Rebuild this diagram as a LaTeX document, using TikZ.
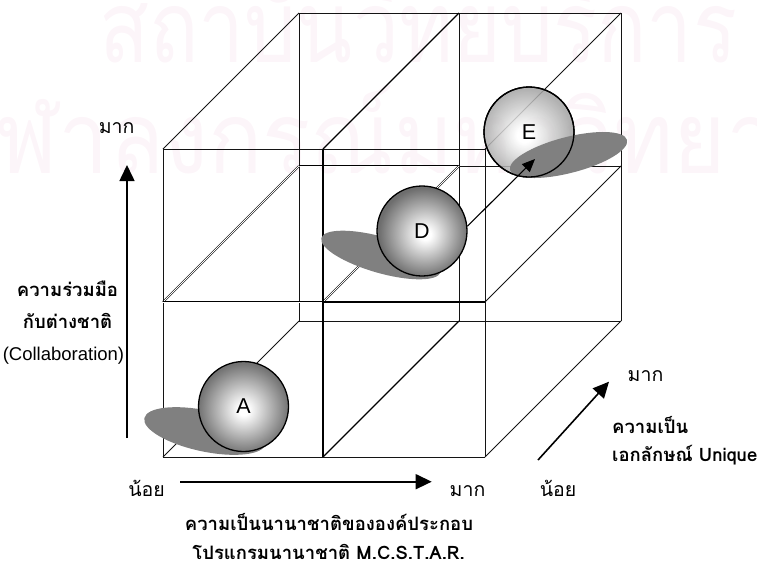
\documentclass[tikz,border=0pt]{standalone}
\usepackage{fontspec}
\setmainfont{Liberation Sans}
\newfontfamily\thai[Script=Thai]{Loma}
\usetikzlibrary{arrows.meta}
\definecolor{wm}{RGB}{252,245,249}
\definecolor{shadowc}{RGB}{128,128,128}
\definecolor{linec}{RGB}{20,20,20}
\pgfdeclareradialshading{ballA}{\pgfpoint{0bp}{-2bp}}{color(0bp)=(white); color(3bp)=(white); color(25bp)=(black!55); color(50bp)=(black!55)}
\pgfdeclareradialshading{ballD}{\pgfpoint{2bp}{-2bp}}{color(0bp)=(white); color(3bp)=(white); color(25bp)=(black!57); color(50bp)=(black!57)}
\pgfdeclareradialshading{ballE}{\pgfpoint{-3bp}{-2bp}}{color(0bp)=(white); color(4bp)=(white); color(25bp)=(black!36); color(50bp)=(black!36)}
\newcommand\thr{\thai\fontsize{19.5}{22}\selectfont}
\newcommand\thb{\thai\bfseries\fontsize{18.5}{22}\selectfont}
\newcommand\lat{\fontsize{18.5}{22}\selectfont}
\begin{document}
\begin{tikzpicture}[x=1pt,y=-1pt,
  gridl/.style={draw=linec, line width=0.75pt},
  gridb/.style={draw=black, line width=1.1pt},
  gridd/.style={draw=black, line width=0.55pt, double=white, double distance=0.9pt},
  axisarrow/.style={line width=1.6pt, -{Triangle[length=16pt,width=15pt]}},
  ball/.style={circle, minimum size=90pt, inner sep=0pt, draw, line width=1.3pt, shade, font=\fontsize{21.5}{24}\selectfont},
  shadowfill/.style={fill=shadowc},
  lbl/.style={anchor=base, inner sep=0pt},
  lblw/.style={anchor=base west, inner sep=0pt}
]
\useasboundingbox (0,0) rectangle (757,563);
% watermark
\node[anchor=base west, inner sep=0pt, text=wm] (wm1) at (99,62) {\scalebox{0.82}[1]{\thai\fontsize{100}{100}\selectfont สถาบันวิทยบริการ}};
\node[anchor=base west, inner sep=0pt, text=wm] (wm2) at (-56,173) {\scalebox{0.90}[1]{\thai\fontsize{100}{100}\selectfont จุฬาลงกรณ์มหาวิทยาลัย}};
% lattice points
\foreach \i/\x in {0/163,1/323,2/485}{
  \foreach \j/\y in {0/149,1/302,2/457}{
    \coordinate (f\i\j) at (\x,\y);
    \coordinate (b\i\j) at (\x+136,\y-136);
  }
}
% back face
\draw[gridl] (b00) -- (b02);
\draw[gridl] (b20) -- (b22);
\draw[gridl] (b00) -- (b20);
\draw[gridl] (b02) -- (b22);
\draw[gridl] (b11) -- (b21);
\draw[gridd] (b01) -- (b11);
\draw[gridl] (b10) -- (b12);
% depth edges
\draw[gridl] (f00) -- (b00);
\draw[gridl] (f20) -- (b20);
\draw[gridl] (f21) -- (b21);
\draw[gridl] (f02) -- (b02);
\draw[gridl] (f22) -- (b22);
\draw[gridb] (f10) -- (b10);
\draw[gridb] (f12) -- (b12);
\draw[gridd] (f01) -- (b01);
\draw[gridd] (f11) -- (b11);
% front face
\draw[gridl] (f00) -- (f02);
\draw[gridl] (f20) -- (f22);
\draw[gridl] (f00) -- (f10);
\draw[gridl] (f10) -- (f20);
\draw[gridd] (f01) -- (f11);
\draw[gridb] (f11) -- (f21);
\draw[gridl] (f02) -- (f22);
\draw[gridb] (f10) -- (f12);
% shadows of A and D
\fill[shadowfill, rotate around={-12:(205,431)}] (205,431) ellipse [x radius=62pt, y radius=20.5pt];
\fill[shadowfill, rotate around={-16:(381,255)}] (381,255) ellipse [x radius=62pt, y radius=18pt];
% spheres
\node[ball, shading=ballA] (A) at (243.5,406.5) {A};
\node[ball, shading=ballD] (D) at (422,231) {D};
\node[ball, shading=ballE, fill opacity=0.85, text opacity=1] (E) at (529,132) {E};
\fill[shadowfill, rotate around={14.4:(568.5,155)}] (568.5,155) ellipse [x radius=60.4pt, y radius=18pt];
\draw[line width=1.3pt] (E.center) circle [radius=45pt];
% arrow D to E
\coordinate (et) at (535,159);
\draw[line width=1.1pt, -{Triangle[length=13pt,width=11pt]}] (D.6) -- (et);
% axes
\coordinate (vs) at (127,438); \coordinate (ve) at (127,165);
\coordinate (hs) at (180,481.7); \coordinate (he) at (431.7,481.7);
\coordinate (ds) at (538,460); \coordinate (de) at (609,381.7);
\draw[axisarrow] (vs) -- (ve);
\draw[axisarrow] (hs) -- (he);
\draw[axisarrow] (ds) -- (de);
% labels
\node[lbl] (t1) at (116.7,133) {\thr มาก};
\node[lbl] (t2) at (67.5,296.7) {\thb ความร่วมมือ};
\node[lbl] (t3) at (67.5,328) {\thb กับต่างชาติ};
\node[lbl] (t4) at (63.5,360) {\lat (Collaboration)};
\node[lbl] (t5) at (146.5,496.7) {\thr น้อย};
\node[lbl] (t6) at (467.5,496.7) {\thr มาก};
\node[lbl] (t7) at (558,496.7) {\thr น้อย};
\node[lbl] (t8) at (329,530) {\thb ความเป็นนานาชาติขององค์ประกอบ};
\node[lbl] (t9) at (328.5,559.5) {\thb โปรแกรมนานาชาติ \lat M.C.S.T.A.R.};
\node[lbl] (t10) at (645.5,381.7) {\thr มาก};
\node[lblw] (t11) at (612,433.3) {\thb ความเป็น};
\node[lblw] (t12) at (612,461.7) {\thb เอกลักษณ์ \lat Unique};
\end{tikzpicture}
\end{document}
